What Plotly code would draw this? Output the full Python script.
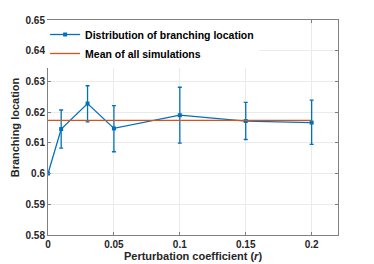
import plotly.graph_objects as go

r_values = [0, 0.01, 0.03, 0.05, 0.1, 0.15, 0.2]
branch_mean = [0.600, 0.6145, 0.6228, 0.6147, 0.6190, 0.6171, 0.6166]
err_plus = [0.0, 0.0062, 0.0058, 0.0074, 0.0091, 0.0061, 0.0073]
err_minus = [0.0, 0.0062, 0.0060, 0.0076, 0.0091, 0.0060, 0.0071]
overall_mean = 0.6173
mean_x = [0, 0.2]

x_ticks = [0, 0.05, 0.1, 0.15, 0.2]
x_tick_text = ["0", "0.05", "0.1", "0.15", "0.2"]
y_ticks = [0.58, 0.59, 0.6, 0.61, 0.62, 0.63, 0.64, 0.65]
y_tick_text = ["0.58", "0.59", "0.6", "0.61", "0.62", "0.63", "0.64", "0.65"]

blue = "#0072BD"
orange = "#D95319"
font = "Liberation Sans"

fig = go.Figure()
fig.add_trace(go.Scatter(
    x=r_values, y=branch_mean, mode="lines+markers",
    name="Distribution of branching location",
    line=dict(color=blue, width=1.3),
    marker=dict(symbol="square", size=4, color=blue),
    error_y=dict(type="data", symmetric=False, array=err_plus, arrayminus=err_minus,
                 color=blue, thickness=1.3, width=2),
))
fig.add_trace(go.Scatter(
    x=mean_x, y=[overall_mean, overall_mean], mode="lines",
    name="Mean of all simulations",
    line=dict(color=orange, width=1.3),
))

axis_common = dict(
    showline=True, linecolor="#808080", linewidth=1, mirror="ticks",
    ticks="inside", ticklen=3, tickcolor="#808080",
    showgrid=True, gridcolor="#EBEBEB", gridwidth=1, zeroline=False,
    automargin=False,
    tickfont=dict(family=font, size=10, color="#262626", weight="bold"),
)

fig.update_layout(
    width=374, height=264,
    margin=dict(l=40, r=44, t=12, b=37),
    paper_bgcolor="white", plot_bgcolor="white",
    font=dict(family=font, size=10, color="#262626"),
    showlegend=True,
    legend=dict(x=-0.01, y=1.0, xanchor="left", yanchor="top",
                bgcolor="white", borderwidth=0,
                font=dict(family=font, size=10.5, color="#000000", weight="bold"),
                tracegroupgap=0, itemwidth=30),
    xaxis=dict(range=[0, 0.22], tickvals=x_ticks, ticktext=x_tick_text,
               title=dict(text="<b>Perturbation coefficient (<i>r</i>)</b>", standoff=3,
                          font=dict(family=font, size=11, color="#262626")),
               **axis_common),
    yaxis=dict(range=[0.58, 0.65], tickvals=y_ticks, ticktext=y_tick_text,
               title=dict(text="<b>Branching location</b>", standoff=3,
                          font=dict(family=font, size=11, color="#262626")),
               **axis_common),
)

fig.write_html("out.html")
